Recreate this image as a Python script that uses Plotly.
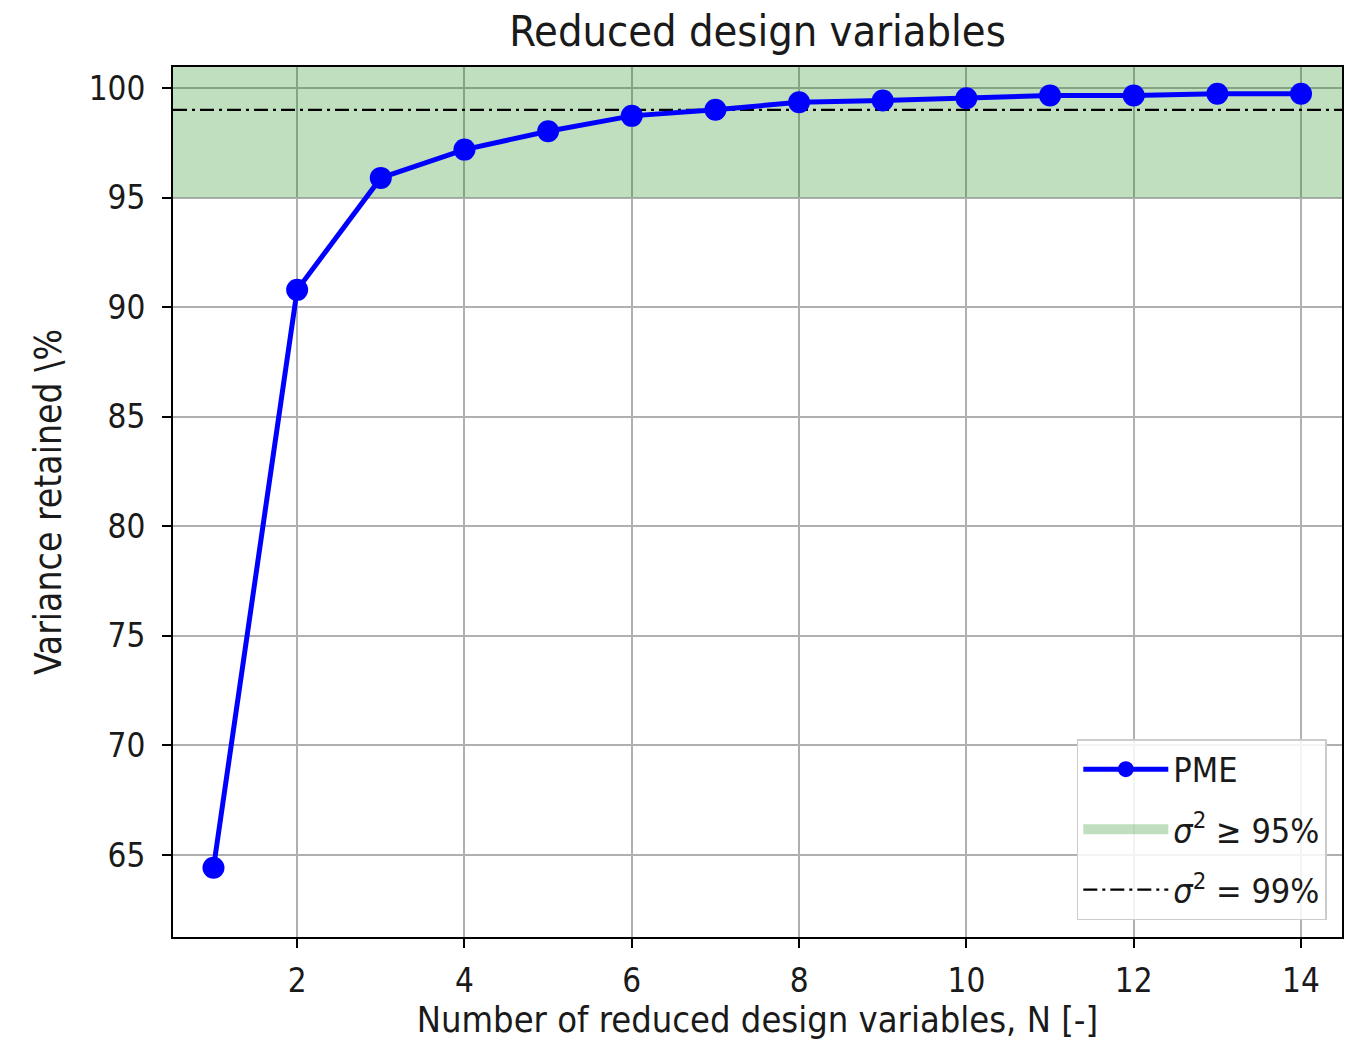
import plotly.graph_objects as go

n_vars = list(range(1, 15))
variance = [64.42, 90.79, 95.90, 97.19, 98.03, 98.73, 99.01, 99.35, 99.43, 99.53, 99.66, 99.66, 99.74, 99.74]
band_low = 95
band_high = 100.96
threshold = 99
x_range = [0.516, 14.49]
y_range = [61.26, 100.96]
x_ticks = [2, 4, 6, 8, 10, 12, 14]
y_ticks = [65, 70, 75, 80, 85, 90, 95, 100]

FONT = "DejaVu Sans Condensed, DejaVu Sans"
TXT = "#1a1a1a"
BAND = "rgba(0,128,0,0.25)"
fig = go.Figure()

fig.add_trace(go.Scatter(
    x=[x_range[0], x_range[1], x_range[1], x_range[0], x_range[0]],
    y=[band_low, band_low, band_high, band_high, band_low],
    fill="toself", fillcolor=BAND, mode="lines",
    line=dict(width=0, color=BAND),
    showlegend=False, hoverinfo="skip",
))
# legend entry for the band
fig.add_trace(go.Scatter(
    x=[None], y=[None], mode="lines",
    line=dict(width=26, color=BAND),
    name="<i>σ</i><sup>2</sup> ≥ 95%", legendrank=2, legendgroup="b",
))
fig.add_trace(go.Scatter(
    x=x_range, y=[threshold, threshold], mode="lines",
    line=dict(color="black", width=2.2, dash="14px,5px,3px,5px"),
    name="<i>σ</i><sup>2</sup> = 99%", legendrank=3, legendgroup="c",
))
fig.add_trace(go.Scatter(
    x=n_vars, y=variance, mode="lines+markers", name="PME",
    line=dict(color="#0000ff", width=5),
    marker=dict(color="#0000ff", size=22),
    legendrank=1, legendgroup="a",
))

fig.update_layout(
    width=1364, height=1040,
    margin=dict(l=173, r=22, t=67, b=103),
    paper_bgcolor="white", plot_bgcolor="white",
    font=dict(family=FONT, size=32, color=TXT),
    title=dict(text="Reduced design variables", x=0.5, xref="paper",
               y=1 - 31 / 1040, yref="container", yanchor="middle", xanchor="center",
               font=dict(family=FONT, size=43, color=TXT)),
    showlegend=True,
    legend=dict(
        x=0.987, y=0.0195, xanchor="right", yanchor="bottom",
        bgcolor="rgba(255,255,255,0.85)", bordercolor="#cccccc", borderwidth=1.5,
        font=dict(family=FONT, size=34, color=TXT),
        itemwidth=85, tracegroupgap=13,
    ),
)
fig.update_xaxes(
    range=x_range, tickvals=x_ticks, automargin=False,
    title=dict(text="Number of reduced design variables, N [-]", standoff=10, font=dict(size=36)),
    tickfont=dict(size=33),
    showgrid=True, gridcolor="#b0b0b0", gridwidth=1.5,
    showline=True, linecolor="black", linewidth=2, mirror=True,
    ticks="outside", ticklen=9, tickwidth=2, tickcolor="black", zeroline=False,
    ticklabelstandoff=4,
)
fig.update_yaxes(
    range=y_range, tickvals=y_ticks, automargin=False,
    title=dict(text="Variance retained \\%", standoff=16, font=dict(size=37)),
    tickfont=dict(size=33),
    showgrid=True, gridcolor="#b0b0b0", gridwidth=1.5,
    showline=True, linecolor="black", linewidth=2, mirror=True,
    ticks="outside", ticklen=9, tickwidth=2, tickcolor="black", zeroline=False,
    ticklabelstandoff=10,
)

fig.write_html("out.html", config={"displayModeBar": False},
               post_script="document.body.style.margin='0px';")
